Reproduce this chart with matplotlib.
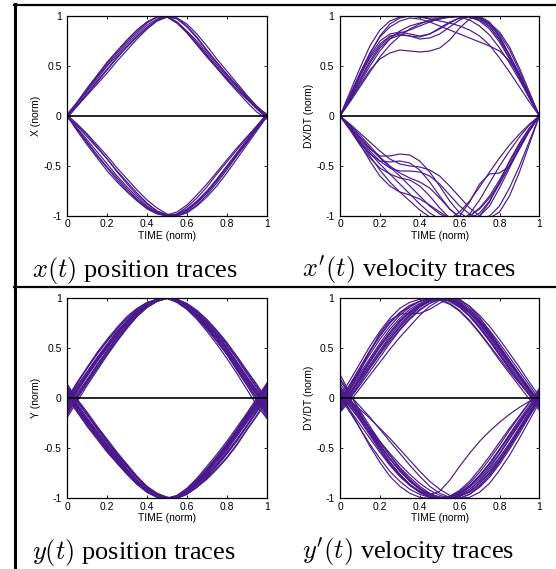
import matplotlib
matplotlib.use("Agg")
import matplotlib.pyplot as plt
from matplotlib.lines import Line2D

plt.rcParams['font.family'] = ['Liberation Sans', 'DejaVu Sans']
plt.rcParams['mathtext.fontset'] = 'cm'
plt.rcParams['axes.unicode_minus'] = False

# normalised time samples shared by every trace
TIME = [0, .05, .1, .15, .2, .25, .3, .35, .4, .45, .5,
        .55, .6, .65, .7, .75, .8, .85, .9, .95, 1]

XTICKS = [0, .2, .4, .6, .8, 1]
XTICK_LABELS = ['0', '0.2', '0.4', '0.6', '0.8', '1']
YTICKS = [-1, -.5, 0, .5, 1]
YTICK_LABELS = ['-1', '-0.5', '0', '0.5', '1']

# x(t) position traces
X_POS_UP = [
    [0, .14, .28, .41, .54, .65, .76, .86, .94, .99, .99, .93, .84, .73, .61, .49, .38, .27, .17, .07, -.02],
    [0, .13, .26, .39, .51, .63, .74, .84, .93, .99, .99, .93, .83, .71, .59, .48, .37, .27, .17, .08, 0],
    [0, .10, .21, .32, .43, .55, .66, .77, .87, .95, .99, .98, .90, .79, .66, .54, .42, .31, .20, .09, 0],
    [.02, .14, .27, .40, .53, .65, .76, .86, .94, .99, .99, .94, .85, .75, .63, .51, .40, .29, .18, .08, -.01],
    [-.02, .10, .22, .34, .46, .58, .69, .79, .88, .95, .99, .98, .92, .82, .70, .57, .45, .33, .21, .10, .01],
    [0, .11, .23, .35, .47, .59, .70, .80, .89, .96, 1.0, .97, .89, .78, .65, .53, .41, .30, .19, .09, .02],
    [.01, .13, .25, .37, .50, .61, .72, .82, .91, .97, 1.0, .94, .84, .72, .60, .48, .36, .25, .14, .04, -.03],
]
X_POS_DOWN = [
    [0, -.15, -.29, -.42, -.55, -.66, -.76, -.85, -.93, -.98, -1.0, -.98, -.93, -.85, -.75, -.63, -.50, -.37, -.24, -.11, 0],
    [0, -.13, -.26, -.39, -.51, -.62, -.73, -.83, -.91, -.97, -1.0, -.99, -.94, -.86, -.76, -.64, -.51, -.38, -.25, -.12, .01],
    [0, -.10, -.21, -.32, -.43, -.55, -.66, -.77, -.87, -.95, -.99, -1.0, -.96, -.89, -.79, -.67, -.54, -.40, -.27, -.13, 0],
    [.01, -.08, -.18, -.29, -.40, -.52, -.63, -.74, -.84, -.92, -.98, -1.0, -.97, -.90, -.81, -.70, -.57, -.43, -.29, -.15, -.01],
    [0, -.12, -.24, -.36, -.48, -.60, -.71, -.81, -.90, -.96, -1.0, -.98, -.91, -.82, -.71, -.58, -.46, -.34, -.22, -.10, .02],
    [-.02, -.09, -.19, -.31, -.43, -.56, -.68, -.79, -.88, -.95, -.99, -.99, -.95, -.87, -.77, -.65, -.52, -.39, -.26, -.13, -.01],
    [0, -.14, -.27, -.40, -.52, -.64, -.75, -.84, -.92, -.97, -.99, -.96, -.89, -.79, -.68, -.56, -.44, -.32, -.21, -.10, .01],
]

# x'(t) velocity traces
X_VEL_UP = [
    [0, .20, .42, .62, .80, .92, .98, 1.0, .99, .97, .95, .93, .90, .86, .80, .71, .58, .44, .29, .14, 0],
    [0, .19, .40, .60, .75, .82, .84, .82, .80, .82, .87, .93, .98, 1.0, .98, .90, .76, .58, .38, .18, 0],
    [0, .15, .31, .46, .57, .63, .66, .65, .64, .65, .68, .76, .88, .97, 1.0, .94, .80, .61, .40, .19, 0],
    [0, .17, .35, .53, .68, .77, .81, .80, .77, .78, .82, .89, .96, 1.0, .99, .92, .79, .61, .41, .20, 0],
    [0, .24, .48, .70, .86, .95, .99, 1.0, .99, .98, .98, .99, 1.0, .99, .95, .87, .74, .57, .38, .18, 0],
    [0, .21, .43, .63, .79, .89, .95, .98, .97, .94, .90, .86, .82, .78, .74, .70, .65, .55, .40, .20, 0],
    [0, .16, .33, .50, .65, .77, .85, .90, .93, .95, .97, .99, 1.0, .99, .96, .89, .77, .61, .42, .21, 0],
    [0, .18, .37, .55, .70, .79, .83, .86, .90, .94, .97, .99, 1.0, 1.0, .98, .93, .84, .69, .48, .24, 0],
    [0, .14, .29, .44, .59, .71, .80, .87, .92, .96, .98, .99, .99, .96, .90, .81, .68, .53, .36, .18, 0],
    [0, .20, .40, .58, .72, .80, .82, .80, .79, .82, .88, .94, .98, .99, .97, .92, .82, .66, .45, .22, 0],
]
X_VEL_DOWN = [
    [0, -.10, -.22, -.33, -.40, -.40, -.38, -.39, -.45, -.56, -.70, -.85, -.97, -1.03, -1.0, -.90, -.72, -.52, -.32, -.14, 0],
    [0, -.12, -.25, -.37, -.48, -.58, -.68, -.78, -.88, -.97, -1.03, -1.05, -1.0, -.86, -.68, -.58, -.57, -.50, -.33, -.15, 0],
    [0, -.13, -.28, -.45, -.60, -.70, -.76, -.79, -.83, -.89, -.96, -1.02, -1.04, -1.0, -.93, -.82, -.67, -.50, -.32, -.15, 0],
    [0, -.11, -.23, -.35, -.45, -.52, -.55, -.55, -.56, -.60, -.68, -.79, -.90, -.98, -1.02, -1.0, -.90, -.72, -.50, -.25, 0],
    [0, -.13, -.27, -.38, -.45, -.46, -.45, -.47, -.54, -.66, -.80, -.93, -1.01, -1.03, -.97, -.85, -.68, -.49, -.30, -.14, 0],
    [0, -.09, -.19, -.30, -.41, -.50, -.57, -.62, -.66, -.72, -.82, -.93, -1.02, -1.05, -1.0, -.86, -.66, -.45, -.27, -.12, 0],
    [0, -.14, -.29, -.42, -.52, -.58, -.62, -.64, -.70, -.80, -.92, -1.02, -1.05, -.98, -.84, -.67, -.50, -.35, -.21, -.09, 0],
    [0, -.10, -.21, -.32, -.42, -.51, -.60, -.70, -.80, -.90, -.98, -1.03, -1.04, -1.0, -.92, -.80, -.64, -.46, -.28, -.12, 0],
    [0, -.08, -.17, -.26, -.35, -.43, -.48, -.50, -.51, -.54, -.60, -.70, -.81, -.92, -1.0, -1.02, -.96, -.80, -.56, -.28, 0],
    [0, -.12, -.26, -.40, -.54, -.66, -.76, -.85, -.94, -1.01, -1.05, -1.03, -.96, -.85, -.71, -.56, -.42, -.29, -.18, -.08, 0],
]

# y(t) position traces
Y_POS_UP = [
    [0, .16, .30, .44, .57, .69, .80, .89, .95, .99, 1.0, .97, .90, .81, .70, .57, .44, .29, .15, 0, -.16],
    [-.13, .03, .18, .33, .47, .61, .73, .84, .92, .98, 1.0, .99, .93, .85, .75, .64, .50, .36, .21, .07, -.10],
    [-.07, .10, .25, .40, .54, .67, .78, .88, .95, .99, 1.0, .96, .89, .79, .67, .54, .40, .25, .09, -.07, -.20],
    [-.17, 0, .15, .30, .44, .58, .71, .82, .91, .97, 1.0, .99, .94, .87, .77, .67, .53, .40, .25, .10, -.07],
    [-.02, .15, .31, .46, .59, .71, .82, .90, .96, .99, 1.0, .96, .89, .80, .69, .57, .44, .30, .15, 0, -.15],
    [-.10, .07, .22, .37, .51, .65, .76, .86, .94, .99, 1.0, .98, .90, .82, .70, .57, .44, .28, .13, -.03, -.19],
    [-.03, .13, .27, .41, .54, .67, .77, .87, .94, .99, 1.0, .98, .92, .84, .73, .62, .49, .35, .21, .07, -.10],
    [-.19, -.03, .13, .28, .43, .57, .70, .82, .91, .97, 1.0, .99, .93, .85, .74, .63, .49, .34, .19, .03, -.14],
    [-.12, .05, .19, .34, .48, .61, .73, .83, .91, .97, 1.0, .99, .94, .87, .78, .67, .55, .42, .27, .13, -.03],
    [-.01, .16, .31, .45, .58, .70, .80, .89, .95, .99, 1.0, .97, .90, .82, .71, .59, .46, .32, .17, .03, -.13],
    [-.15, .02, .17, .33, .47, .61, .73, .84, .92, .98, 1.0, .98, .92, .83, .72, .60, .46, .31, .15, 0, -.17],
    [-.06, .10, .24, .38, .52, .64, .75, .85, .93, .98, 1.0, .99, .93, .86, .76, .65, .53, .40, .25, .11, -.05],
    [-.09, .08, .23, .37, .50, .63, .75, .85, .93, .98, 1.0, .98, .92, .84, .74, .62, .49, .35, .20, .05, -.12],
    [-.04, .12, .26, .40, .53, .66, .77, .87, .94, .99, 1.0, .97, .91, .83, .72, .60, .47, .33, .18, .04, -.12],
    [-.14, .02, .16, .31, .45, .59, .71, .82, .91, .97, 1.0, .99, .95, .88, .79, .68, .56, .42, .28, .14, -.01],
    [-.08, .09, .24, .39, .53, .65, .76, .86, .94, .98, 1.0, .98, .93, .85, .75, .63, .51, .37, .22, .08, -.08],
]
Y_POS_DOWN = [
    [.10, -.06, -.20, -.34, -.47, -.59, -.71, -.82, -.91, -.97, -1.0, -.99, -.93, -.85, -.74, -.61, -.48, -.34, -.19, -.04, .12],
    [.05, -.10, -.24, -.37, -.50, -.62, -.74, -.84, -.92, -.97, -1.0, -.98, -.91, -.82, -.71, -.59, -.46, -.32, -.17, -.03, .13],
    [.14, -.02, -.16, -.30, -.43, -.56, -.68, -.79, -.89, -.96, -1.0, -1.0, -.94, -.86, -.76, -.65, -.52, -.38, -.24, -.10, .06],
    [.02, -.13, -.28, -.41, -.54, -.65, -.76, -.86, -.94, -.99, -1.0, -.97, -.90, -.80, -.68, -.56, -.43, -.29, -.15, .00, .15],
    [.08, -.08, -.22, -.35, -.49, -.61, -.73, -.83, -.92, -.98, -1.0, -.99, -.92, -.83, -.72, -.60, -.47, -.33, -.18, -.04, .10],
    [.11, -.04, -.17, -.30, -.44, -.56, -.68, -.79, -.89, -.96, -.99, -1.0, -.95, -.88, -.79, -.68, -.56, -.43, -.28, -.14, .01],
    [.00, -.14, -.28, -.40, -.52, -.63, -.75, -.85, -.93, -.98, -1.0, -.98, -.92, -.83, -.73, -.61, -.49, -.36, -.22, -.08, .07],
    [.12, -.03, -.16, -.29, -.42, -.55, -.67, -.79, -.89, -.95, -.99, -1.0, -.96, -.89, -.80, -.70, -.59, -.46, -.31, -.17, -.02],
    [.06, -.09, -.23, -.36, -.48, -.60, -.72, -.82, -.91, -.97, -1.0, -.99, -.93, -.85, -.75, -.63, -.51, -.38, -.24, -.10, .05],
    [.03, -.12, -.25, -.38, -.51, -.63, -.75, -.86, -.94, -.99, -1.0, -.98, -.91, -.81, -.70, -.58, -.45, -.31, -.16, -.02, .14],
    [.13, -.01, -.14, -.28, -.41, -.54, -.66, -.78, -.88, -.95, -.99, -1.0, -.96, -.89, -.81, -.71, -.60, -.47, -.32, -.18, -.03],
    [.07, -.07, -.20, -.33, -.46, -.58, -.71, -.82, -.91, -.97, -1.0, -.99, -.94, -.86, -.77, -.66, -.54, -.41, -.27, -.12, .03],
    [.09, -.07, -.21, -.34, -.47, -.60, -.72, -.83, -.92, -.97, -1.0, -.98, -.92, -.84, -.74, -.62, -.50, -.36, -.22, -.07, .09],
    [.04, -.11, -.25, -.39, -.52, -.64, -.75, -.85, -.93, -.98, -1.0, -.98, -.92, -.83, -.72, -.60, -.47, -.33, -.19, -.05, .11],
    [.12, -.03, -.17, -.31, -.44, -.57, -.69, -.80, -.90, -.96, -1.0, -.99, -.94, -.87, -.78, -.67, -.55, -.42, -.28, -.13, .03],
    [.01, -.13, -.27, -.40, -.53, -.65, -.76, -.86, -.93, -.98, -1.0, -.98, -.93, -.84, -.74, -.62, -.49, -.35, -.20, -.06, .09],
]

# y'(t) velocity traces
Y_VEL_UP = [
    [-.10, .04, .20, .36, .51, .64, .76, .86, .93, .98, 1.0, .99, .95, .88, .78, .66, .52, .37, .22, .07, -.08],
    [-.03, .12, .28, .44, .59, .72, .83, .91, .97, 1.0, 1.0, .97, .91, .82, .71, .58, .44, .30, .16, .03, -.10],
    [-.06, .09, .27, .47, .65, .78, .84, .85, .85, .89, .95, 1.0, .99, .92, .81, .67, .52, .37, .22, .08, -.06],
    [-.14, -.03, .10, .23, .36, .49, .61, .72, .83, .92, .98, 1.0, .96, .88, .77, .65, .51, .37, .23, .09, -.05],
    [.02, .18, .35, .52, .67, .80, .90, .96, .99, 1.0, .98, .94, .87, .77, .65, .52, .38, .25, .12, -.01, -.12],
    [-.08, .06, .21, .37, .52, .66, .78, .87, .94, .98, 1.0, .99, .94, .86, .76, .64, .51, .37, .23, .10, -.03],
    [-.05, .08, .23, .38, .53, .66, .77, .86, .92, .97, 1.0, .98, .93, .85, .74, .61, .47, .33, .19, .06, -.06],
    [-.11, .02, .16, .31, .45, .59, .71, .82, .91, .97, 1.0, .98, .93, .85, .75, .62, .49, .35, .22, .09, -.04],
    [-.02, .13, .30, .47, .62, .75, .85, .92, .97, 1.0, .99, .95, .88, .78, .66, .53, .40, .27, .15, .04, -.07],
    [-.07, .05, .19, .33, .47, .60, .72, .83, .92, .98, 1.0, .99, .95, .88, .78, .66, .52, .38, .24, .10, -.04],
    [-.04, .10, .25, .40, .55, .69, .80, .89, .95, .99, 1.0, .98, .92, .83, .72, .59, .45, .31, .17, .04, -.09],
    [-.12, .00, .13, .27, .41, .55, .68, .79, .88, .95, .99, 1.0, .97, .90, .80, .68, .55, .41, .27, .13, -.01],
    [-.09, .04, .18, .33, .48, .62, .74, .84, .92, .97, 1.0, .99, .94, .86, .75, .63, .49, .35, .21, .07, -.06],
    [-.01, .14, .31, .48, .63, .76, .86, .93, .97, .99, 1.0, .97, .91, .82, .70, .57, .43, .29, .16, .03, -.09],
    [-.13, .00, .15, .30, .44, .57, .69, .80, .89, .95, .99, 1.0, .98, .92, .83, .72, .59, .45, .31, .16, .02],
]
Y_VEL_DOWN = [
    [.05, -.08, -.22, -.37, -.52, -.66, -.78, -.87, -.93, -.96, -.93, -.82, -.68, -.55, -.43, -.33, -.24, -.16, -.09, -.03, .00],
    [.24, .05, -.14, -.32, -.49, -.64, -.77, -.87, -.94, -.98, -1.0, -.98, -.93, -.85, -.74, -.61, -.47, -.32, -.18, -.04, .08],
    [.10, -.04, -.19, -.35, -.50, -.64, -.76, -.86, -.94, -.99, -1.0, -.99, -.96, -.89, -.80, -.68, -.55, -.40, -.25, -.10, .05],
    [.04, -.12, -.30, -.48, -.64, -.78, -.88, -.95, -.99, -1.0, -1.0, -1.0, -.98, -.93, -.85, -.74, -.60, -.45, -.29, -.13, .02],
    [.06, -.06, -.18, -.31, -.44, -.57, -.69, -.79, -.88, -.95, -.99, -1.0, -.98, -.93, -.85, -.75, -.62, -.47, -.31, -.15, .01],
    [.12, -.02, -.16, -.30, -.43, -.55, -.66, -.76, -.85, -.92, -.97, -1.0, -1.0, -.96, -.89, -.79, -.66, -.51, -.35, -.18, -.02],
    [.02, -.09, -.21, -.34, -.47, -.60, -.72, -.82, -.90, -.96, -.99, -1.0, -.97, -.91, -.82, -.70, -.56, -.41, -.26, -.11, .04],
    [.15, .00, -.15, -.31, -.46, -.60, -.72, -.83, -.91, -.97, -1.0, -.99, -.95, -.88, -.78, -.65, -.51, -.36, -.21, -.07, .07],
    [.08, -.03, -.11, -.20, -.30, -.40, -.51, -.62, -.73, -.83, -.91, -.97, -1.0, -.99, -.94, -.85, -.72, -.57, -.40, -.22, -.04],
    [.00, -.12, -.26, -.40, -.54, -.67, -.78, -.87, -.94, -.98, -1.0, -.98, -.94, -.87, -.77, -.65, -.51, -.37, -.23, -.09, .06],
    [.18, .03, -.08, -.19, -.31, -.43, -.55, -.67, -.78, -.88, -.95, -.99, -1.0, -.96, -.88, -.77, -.63, -.48, -.32, -.16, .00],
    [.07, -.06, -.20, -.35, -.50, -.64, -.76, -.86, -.93, -.98, -1.0, -.98, -.92, -.83, -.71, -.58, -.44, -.30, -.17, -.04, .10],
    [.10, -.03, -.17, -.32, -.47, -.61, -.73, -.83, -.91, -.96, -.99, -1.0, -.97, -.91, -.83, -.72, -.59, -.45, -.30, -.15, .01],
    [.20, .04, -.12, -.28, -.43, -.57, -.70, -.81, -.90, -.96, -.99, -1.0, -.98, -.94, -.87, -.77, -.64, -.49, -.33, -.17, -.01],
    [.01, -.14, -.30, -.46, -.60, -.73, -.83, -.91, -.96, -.99, -1.0, -.99, -.95, -.88, -.78, -.66, -.52, -.38, -.24, -.10, .05],
]

PANELS = [
    (X_POS_UP + X_POS_DOWN, 'X (norm)', r'$x(t)$ position traces'),
    (X_VEL_UP + X_VEL_DOWN, 'DX/DT (norm)', r"$x'(t)$ velocity traces"),
    (Y_POS_UP + Y_POS_DOWN, 'Y (norm)', r'$y(t)$ position traces'),
    (Y_VEL_UP + Y_VEL_DOWN, 'DY/DT (norm)', r"$y'(t)$ velocity traces"),
]

W, H = 556, 569
fig = plt.figure(figsize=(W / 100, H / 100), dpi=100)

col_left = [67.3, 340.0]
row_bottom = [216.0, 498.3]
trace_color = '#4a1a8c'

for i, (traces, ylab, caption) in enumerate(PANELS):
    r, c = divmod(i, 2)
    ax = fig.add_axes([col_left[c] / W, 1 - row_bottom[r] / H, 199.4 / W, 200 / H])
    for tr in traces:
        ax.plot(TIME, tr, color=trace_color, lw=0.85)
    ax.axhline(0, color='black', lw=1.2)
    ax.set_xlim(0, 1)
    ax.set_ylim(-1, 1)
    ax.set_xticks(XTICKS)
    ax.set_xticklabels(XTICK_LABELS)
    ax.set_yticks(YTICKS)
    ax.set_yticklabels(YTICK_LABELS)
    ax.tick_params(direction='in', length=2.5, width=0.6, labelsize=7.5,
                   top=True, right=True)
    ax.tick_params(axis='x', pad=2.5)
    ax.tick_params(axis='y', pad=4)
    for sp in ax.spines.values():
        sp.set_linewidth(0.9)
    ax.set_xlabel('TIME (norm)', fontsize=7.5, labelpad=1)
    ax.set_ylabel(ylab, fontsize=7.5, labelpad=2)

    x0 = [31.7, 301.7][c]
    base = [277, 559][r]
    fig.text(x0 / W, 1 - base / H, caption, fontsize=19, va='baseline',
             ha='left', family='Liberation Serif')

# table rules around the panels
fig.add_artist(Line2D([14.5 / W, 14.5 / W], [0, 1 - 4 / H], color='black', lw=2.2))
fig.add_artist(Line2D([13.5 / W, 1], [1 - 5 / H, 1 - 5 / H], color='black', lw=1.6))
fig.add_artist(Line2D([13.5 / W, 1], [1 - 286.7 / H, 1 - 286.7 / H], color='black', lw=1.6))

fig.savefig('out.png', dpi=100)
